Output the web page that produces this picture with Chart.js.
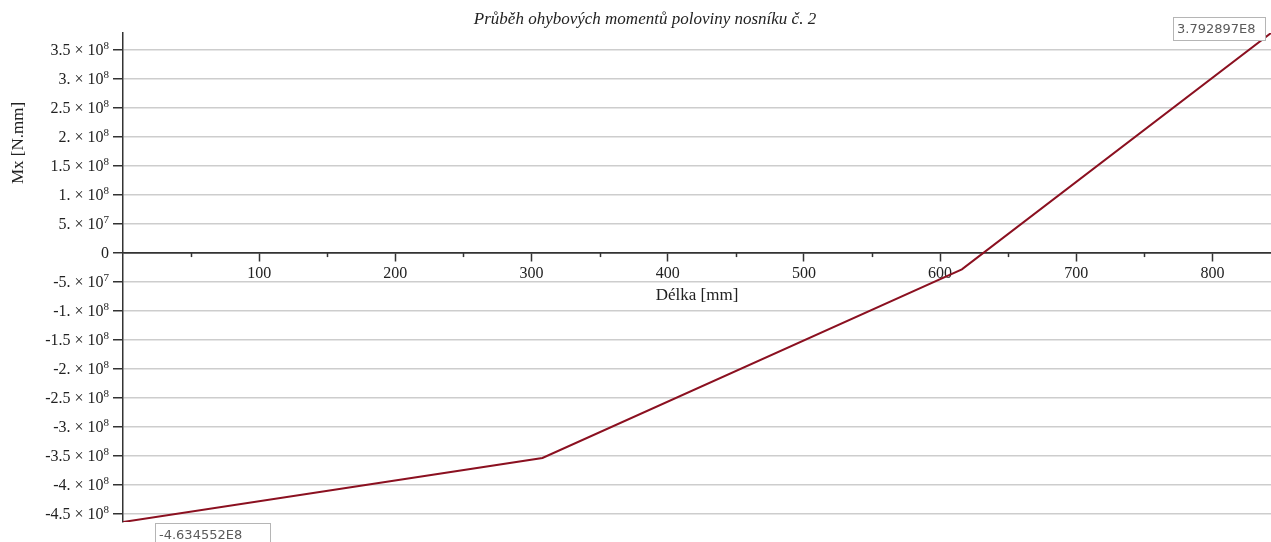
<!DOCTYPE html>
<html><head><meta charset="utf-8">
<script src="https://cdn.jsdelivr.net/npm/chart.js@4.4.0/dist/chart.umd.min.js"></script>
<style>html,body{margin:0;padding:0;background:#fff;overflow:hidden}</style>
</head><body>
<canvas id="c" width="1271" height="542"></canvas>
<script>
const lengthMm = [0, 308, 616, 843];
const momentNmm = [-4.634552e8, -3.53e8, -2.8e7, 3.792897e8];
const yTickValues = [3.5e8, 3e8, 2.5e8, 2e8, 1.5e8, 1e8, 5e7, 0, -5e7, -1e8, -1.5e8, -2e8, -2.5e8, -3e8, -3.5e8, -4e8, -4.5e8];
const yTickMantissas = ['3.5', '3.', '2.5', '2.', '1.5', '1.', '5.', '0', '-5.', '-1.', '-1.5', '-2.', '-2.5', '-3.', '-3.5', '-4.', '-4.5'];
const yTickExponents = ['8', '8', '8', '8', '8', '8', '7', '', '7', '8', '8', '8', '8', '8', '8', '8', '8'];
const xMajorTicks = [100, 200, 300, 400, 500, 600, 700, 800];
const xMinorTicks = [50, 150, 250, 350, 450, 550, 650, 750];
const chartTitle = 'Průběh ohybových momentů poloviny nosníku č. 2';
const xTitle = 'Délka [mm]';
const yTitle = 'Mx [N.mm]';
const maxLabel = '3.792897E8';
const minLabel = '-4.634552E8';

const SERIF = "'Liberation Serif', 'Times New Roman', serif";
const SANS = "'DejaVu Sans', Tahoma, sans-serif";

const decor = {
  id: 'decor',
  afterDraw(chart) {
    const ctx = chart.ctx;
    const xs = chart.scales.x, ys = chart.scales.y;
    const y0 = ys.getPixelForValue(0);
    ctx.save();
    // minor ticks
    ctx.strokeStyle = '#333';
    ctx.lineWidth = 1.5;
    xMinorTicks.forEach(v => {
      const px = Math.round(xs.getPixelForValue(v)) + 0.5;
      ctx.beginPath(); ctx.moveTo(px, y0); ctx.lineTo(px, y0 + 4); ctx.stroke();
    });
    // y tick labels with superscript exponents
    ctx.fillStyle = '#222';
    ctx.textBaseline = 'alphabetic';
    yTickValues.forEach((v, i) => {
      const py = ys.getPixelForValue(v);
      const right = 109;
      const exp = yTickExponents[i];
      const base = exp ? yTickMantissas[i] + ' × 10' : yTickMantissas[i];
      ctx.font = '11px ' + SERIF;
      const ew = exp ? ctx.measureText(exp).width : 0;
      ctx.textAlign = 'right';
      if (exp) ctx.fillText(exp, right, py - 1);
      ctx.font = '16px ' + SERIF;
      ctx.fillText(base, right - ew, py + 5);
    });
    // title
    ctx.fillStyle = '#222';
    ctx.font = 'italic 17px ' + SERIF;
    ctx.textAlign = 'center'; ctx.textBaseline = 'middle';
    ctx.fillText(chartTitle, 645, 20);
    // x title
    ctx.font = '17px ' + SERIF;
    ctx.fillText(xTitle, (chart.chartArea.left + chart.chartArea.right) / 2, 296);
    // y title
    ctx.save();
    ctx.translate(19, 143);
    ctx.rotate(-Math.PI / 2);
    ctx.fillText(yTitle, 0, 0);
    ctx.restore();
    // value boxes
    ctx.font = '13px ' + SANS;
    ctx.textAlign = 'left';
    const box = (txt, x, y, w, h) => {
      ctx.fillStyle = '#fff';
      ctx.fillRect(x, y, w, h);
      ctx.strokeStyle = '#b5b5b5'; ctx.lineWidth = 1;
      ctx.strokeRect(x + 0.5, y + 0.5, w, h);
      ctx.fillStyle = '#5a5a5a';
      ctx.fillText(txt, x + 4, y + h / 2 + 1);
    };
    box(maxLabel, 1173, 17, 92, 23);
    box(minLabel, 155, 523, 115, 23);
    ctx.restore();
  }
};

new Chart(document.getElementById('c'), {
  type: 'scatter',
  data: {
    datasets: [{
      data: lengthMm.map((x, i) => ({ x: x, y: momentNmm[i] })),
      showLine: true,
      borderColor: '#8b1020',
      borderWidth: 2,
      pointRadius: 0,
      tension: 0
    }]
  },
  options: {
    responsive: false,
    devicePixelRatio: 1,
    animation: false,
    layout: { padding: { top: 33, bottom: 20, left: 0, right: 0 } },
    plugins: { legend: { display: false }, tooltip: { enabled: false }, title: { display: false } },
    scales: {
      x: {
        type: 'linear',
        position: { y: 0 },
        min: 0, max: 843,
        afterBuildTicks: s => { s.ticks = xMajorTicks.map(v => ({ value: v })); },
        grid: { drawOnChartArea: false, drawTicks: true, tickLength: 8, color: '#333', tickColor: '#333', tickWidth: 1.5 },
        border: { display: true, color: '#333', width: 1.5 },
        ticks: { font: { family: SERIF, size: 16 }, color: '#222', padding: 3, maxRotation: 0, autoSkip: false }
      },
      y: {
        type: 'linear',
        position: 'left',
        min: momentNmm[0], max: momentNmm[momentNmm.length - 1],
        afterBuildTicks: s => { s.ticks = yTickValues.map(v => ({ value: v })); },
        afterFit: s => { s.width = 123; },
        grid: {
          color: c => (c.tick && c.tick.value === 0) ? '#333' : '#cdcdcd',
          lineWidth: 1.5, tickLength: 10, tickColor: '#333', tickWidth: 1.5
        },
        border: { display: true, color: '#333', width: 1.5 },
        ticks: { display: false, autoSkip: false }
      }
    }
  },
  plugins: [decor]
});
</script>
</body></html>
